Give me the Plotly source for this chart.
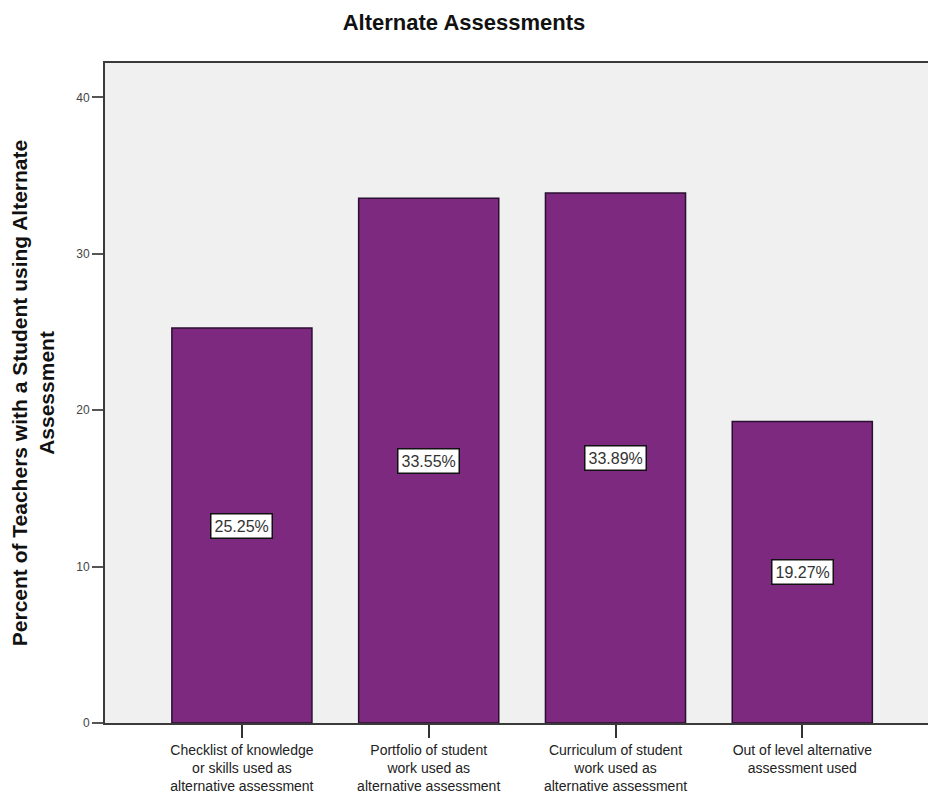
import plotly.graph_objects as go

categories = [
    "Checklist of knowledge<br>or skills used as<br>alternative assessment",
    "Portfolio of student<br>work used as<br>alternative assessment",
    "Curriculum of student<br>work used as<br>alternative assessment",
    "Out of level alternative<br>assessment used",
]
values = [25.25, 33.55, 33.89, 19.27]
value_labels = ["25.25%", "33.55%", "33.89%", "19.27%"]
y_ticks = [0, 10, 20, 30, 40]

xs = list(range(len(categories)))
FONT = "Liberation Sans, Arial, sans-serif"

fig = go.Figure()
fig.add_trace(go.Bar(
    x=xs, y=values, width=0.75,
    marker=dict(color="#7D2980", line=dict(color="#2a1030", width=1.5)),
    hoverinfo="skip",
))

for x, v, t in zip(xs, values, value_labels):
    fig.add_annotation(
        x=x, y=v / 2, text=t, showarrow=False,
        font=dict(family=FONT, size=16, color="#333333"),
        bgcolor="white", bordercolor="#111111", borderwidth=1.5, borderpad=3,
    )

fig.update_layout(
    width=928, height=797,
    margin=dict(l=105, r=0, t=63, b=74),
    paper_bgcolor="white", plot_bgcolor="#F0F0F0",
    showlegend=False,
    title=dict(
        text="<b>Alternate Assessments</b>",
        x=0.5, xanchor="center", y=1 - 22 / 797, yanchor="middle",
        font=dict(family=FONT, size=22, color="#111111"),
    ),
    font=dict(family=FONT),
)

fig.update_xaxes(
    range=[-0.733, 3.673], tickvals=xs, ticktext=categories,
    showgrid=False, zeroline=False,
    showline=True, linecolor="#3a3a3a", linewidth=2, mirror=True,
    ticks="outside", ticklen=13, tickwidth=1.5, tickcolor="#333333",
    tickfont=dict(family=FONT, size=14, color="#222222"),
)
fig.update_yaxes(
    range=[0, 42.2], tickvals=y_ticks,
    showgrid=False, zeroline=False,
    showline=True, linecolor="#3a3a3a", linewidth=2,
    ticks="outside", ticklen=11, tickwidth=1.5, tickcolor="#555555",
    tickfont=dict(family=FONT, size=12, color="#444444"),
    title=dict(
        text="<b>Percent of Teachers with a Student using Alternate<br>Assessment</b>",
        font=dict(family=FONT, size=21, color="#111111"), standoff=16,
    ),
)

fig.write_html("out.html")
